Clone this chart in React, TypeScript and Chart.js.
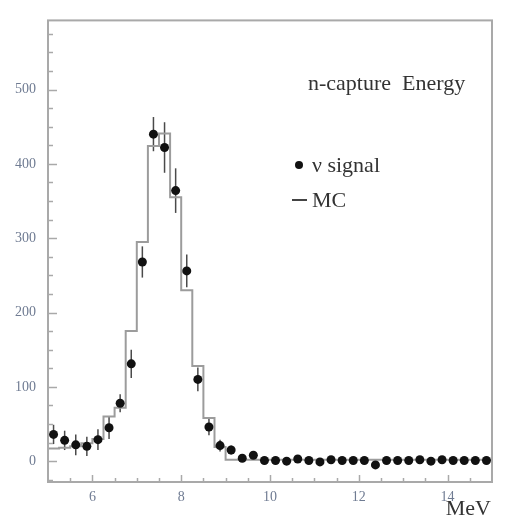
import React, { useEffect, useRef } from "react";
import { Chart, registerables } from "chart.js";

Chart.register(...registerables);

// Histogram binning (MeV)
const BIN_LOW = 5.0;
const BIN_WIDTH = 0.25;

// ν signal: counts per 0.25 MeV bin, 5.0 – 15.0 MeV
const signalCounts = [
  36, 28, 22, 20, 29, 45, 78, 131, 268, 440,
  422, 364, 256, 110, 46, 21, 15, 4, 8, 1,
  1, 0, 3, 1, -1, 2, 1, 1, 1, -5,
  1, 1, 1, 2, 0, 2, 1, 1, 1, 1,
];
const signalErrors = [
  13, 13, 14, 13, 14, 15, 12, 19, 21, 23,
  34, 30, 22, 16, 11, 8, 6, 4, 4, 3,
  3, 3, 3, 3, 3, 3, 3, 3, 3, 3,
  3, 3, 3, 3, 3, 3, 3, 3, 3, 3,
];
// MC: expected counts per bin
const mcCounts = [
  17, 18, 20, 24, 30, 60, 72, 175, 295, 424,
  441, 355, 230, 128, 58, 19, 2, 2, 2, 2,
  2, 2, 2, 2, 2, 2, 2, 2, 2, 2,
  2, 2, 2, 2, 2, 2, 2, 2, 2, 2,
];

const xTickValues = [6, 8, 10, 12, 14];
const yTickValues = [0, 100, 200, 300, 400, 500];
const X_MIN = 5;
const X_MAX = 15;
const Y_MIN = -28;
const Y_MAX = 593;
const X_MINOR_STEP = 0.5;
const Y_MINOR_STEP = 25;

const FRAME_COLOR = "#a9a9a9";
const LABEL_COLOR = "#6f7b92";
const TEXT_COLOR = "#333333";
const SERIF = "'Liberation Serif', 'DejaVu Serif', serif";

const errorBarPlugin = {
  id: "errorBars",
  beforeDatasetsDraw(chart: any) {
    const { ctx, scales } = chart;
    const xs = scales.x;
    const ys = scales.y;
    ctx.save();
    ctx.strokeStyle = "#4a4a4a";
    ctx.lineWidth = 1.5;
    signalCounts.forEach((v, i) => {
      const e = signalErrors[i];
      const x = xs.getPixelForValue(BIN_LOW + (i + 0.5) * BIN_WIDTH);
      ctx.beginPath();
      ctx.moveTo(x, ys.getPixelForValue(v - e));
      ctx.lineTo(x, ys.getPixelForValue(v + e));
      ctx.stroke();
    });
    ctx.restore();
  },
};

const framePlugin = {
  id: "frameTicks",
  afterDraw(chart: any) {
    const { ctx, chartArea, scales } = chart;
    const { left, right, top, bottom } = chartArea;
    const xs = scales.x;
    const ys = scales.y;
    ctx.save();
    ctx.strokeStyle = FRAME_COLOR;
    ctx.lineWidth = 2;
    ctx.strokeRect(left, top, right - left, bottom - top);
    ctx.lineWidth = 1.5;
    // y ticks (inside, on left axis)
    for (let v = Math.ceil(Y_MIN / Y_MINOR_STEP) * Y_MINOR_STEP; v <= Y_MAX; v += Y_MINOR_STEP) {
      const y = Math.round(ys.getPixelForValue(v)) + 0.5;
      const major = v % 100 === 0;
      ctx.beginPath();
      ctx.moveTo(left, y);
      ctx.lineTo(left + (major ? 9 : 5), y);
      ctx.stroke();
    }
    // x ticks (inside, on bottom axis)
    for (let v = X_MIN + X_MINOR_STEP; v < X_MAX; v += X_MINOR_STEP) {
      const x = Math.round(xs.getPixelForValue(v)) + 0.5;
      const major = Math.abs(v % 2) < 1e-6;
      ctx.beginPath();
      ctx.moveTo(x, bottom);
      ctx.lineTo(x, bottom - (major ? 7 : 4));
      ctx.stroke();
    }
    ctx.restore();
  },
};

export default function App() {
  const canvasRef = useRef<HTMLCanvasElement | null>(null);

  useEffect(() => {
    if (!canvasRef.current) return;
    const n = mcCounts.length;
    const mcPoints = mcCounts.map((v, i) => ({ x: BIN_LOW + i * BIN_WIDTH, y: v }));
    mcPoints.push({ x: BIN_LOW + n * BIN_WIDTH, y: mcCounts[n - 1] });
    const sigPoints = signalCounts.map((v, i) => ({ x: BIN_LOW + (i + 0.5) * BIN_WIDTH, y: v }));

    const chart = new Chart(canvasRef.current, {
      type: "scatter",
      data: {
        datasets: [
          {
            type: "scatter",
            label: "ν signal",
            data: sigPoints,
            pointRadius: 4.5,
            pointBackgroundColor: "#111111",
            pointBorderColor: "#111111",
            pointBorderWidth: 0,
            showLine: false,
            order: 0,
          },
          {
            type: "line",
            label: "MC",
            data: mcPoints,
            stepped: "before",
            borderColor: "#9c9c9c",
            borderWidth: 2,
            pointRadius: 0,
            fill: false,
            order: 1,
          } as any,
        ],
      },
      options: {
        animation: false,
        responsive: false,
        devicePixelRatio: 1,
        layout: { padding: { top: 15, right: 20, left: 0, bottom: 0 } },
        plugins: {
          legend: { display: false },
          tooltip: { enabled: false },
          title: { display: false },
        },
        scales: {
          x: {
            type: "linear",
            min: X_MIN,
            max: X_MAX,
            grid: { display: false, drawTicks: false },
            border: { display: false },
            afterBuildTicks: (axis: any) => {
              axis.ticks = xTickValues.map((v) => ({ value: v }));
            },
            afterFit: (axis: any) => {
              axis.height = 36;
            },
            ticks: {
              padding: 7,
              color: LABEL_COLOR,
              font: { family: SERIF, size: 14 },
              maxRotation: 0,
              callback: (v: any) => String(v),
            },
          },
          y: {
            type: "linear",
            min: Y_MIN,
            max: Y_MAX,
            grid: { display: false, drawTicks: false },
            border: { display: false },
            afterBuildTicks: (axis: any) => {
              axis.ticks = yTickValues.map((v) => ({ value: v }));
            },
            afterFit: (axis: any) => {
              axis.width = 48;
            },
            ticks: {
              padding: 12,
              color: LABEL_COLOR,
              font: { family: SERIF, size: 14 },
              callback: (v: any) => String(v),
            },
          },
        },
      },
      plugins: [errorBarPlugin, framePlugin],
    });
    return () => chart.destroy();
  }, []);

  const textStyle: React.CSSProperties = {
    position: "absolute",
    fontFamily: SERIF,
    fontSize: 22,
    lineHeight: "22px",
    color: TEXT_COLOR,
    whiteSpace: "pre",
  };

  return (
    <div style={{ position: "absolute", left: 0, top: 0, width: 512, height: 518, background: "#ffffff" }}>
      <canvas ref={canvasRef} width={512} height={518} style={{ display: "block" }} />
      <div style={{ ...textStyle, left: 308, top: 72 }}>{"n-capture  Energy"}</div>
      <div
        style={{
          position: "absolute",
          left: 295,
          top: 161,
          width: 8,
          height: 8,
          borderRadius: "50%",
          background: "#111111",
        }}
      />
      <div style={{ ...textStyle, left: 312, top: 154 }}>{"ν signal"}</div>
      <div style={{ position: "absolute", left: 292, top: 199, width: 15, height: 2, background: "#444444" }} />
      <div style={{ ...textStyle, left: 312, top: 189 }}>{"MC"}</div>
      <div style={{ ...textStyle, right: 21, top: 497 }}>{"MeV"}</div>
    </div>
  );
}
